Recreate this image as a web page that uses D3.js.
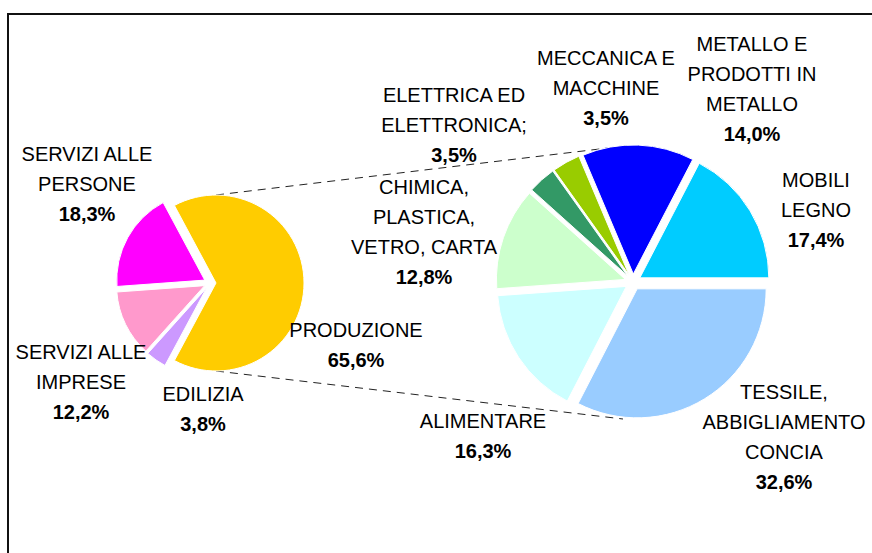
<!DOCTYPE html>
<html>
<head>
<meta charset="utf-8">
<script src="https://cdn.jsdelivr.net/npm/d3@7"></script>
<style>
  body { margin: 0; background: #fff; }
  text { font-family: "Liberation Sans", Arial, sans-serif; }
</style>
</head>
<body>
<div id="chart"></div>
<script>
(function () {

var width = 872;
var height = 553;

// first pie: all sectors (share of total)
var mainNames = ["PRODUZIONE", "EDILIZIA", "SERVIZI ALLE\nIMPRESE", "SERVIZI ALLE\nPERSONE"];
var mainValues = [65.6, 3.8, 12.2, 18.3];
var mainColors = ["#FFCC00", "#CC99FF", "#FF99CC", "#FF00FF"];

// second pie: breakdown of PRODUZIONE
var prodNames = ["TESSILE,\nABBIGLIAMENTO\nCONCIA", "ALIMENTARE", "CHIMICA,\nPLASTICA,\nVETRO, CARTA",
  "ELETTRICA ED\nELETTRONICA;", "MECCANICA E\nMACCHINE", "METALLO E\nPRODOTTI IN\nMETALLO", "MOBILI\nLEGNO"];
var prodValues = [32.6, 16.3, 12.8, 3.5, 3.5, 14.0, 17.4];
var prodColors = ["#99CCFF", "#CCFFFF", "#CCFFCC", "#339966", "#99CC00", "#0000FF", "#00CCFF"];

// label anchors (first line baseline) relative to each pie centre
var mainLabelPos = [[146, 54], [-7, 118], [-129, 76], [-123, -122]];
var prodLabelPos = [[151, 117], [-150, 146], [-209, -88], [-179, -180], [-27, -217], [119, -231], [183, -95]];

var left = { cx: 210, cy: 283, r: 88, explode: 6 };
var right = { cx: 633, cy: 282, r: 129, explode: 8 };
var lineH = 30;

var fmt = function (v) { return d3.format(".1f")(v).replace(".", ",") + "%"; };

var svg = d3.select("#chart").append("svg")
  .attr("width", width)
  .attr("height", height);

// chart frame, runs off the right and bottom edge like the original
svg.append("rect")
  .attr("x", 8)
  .attr("y", 14)
  .attr("width", 1000)
  .attr("height", 1000)
  .attr("fill", "none")
  .attr("stroke", "#111")
  .attr("stroke-width", 2);

// the "other" slice is centred on 3 o'clock
var otherAngle = 2 * Math.PI * mainValues[0] / d3.sum(mainValues);
var mainStart = Math.PI / 2 - otherAngle / 2;

var pieMain = d3.pie().sort(null).value(function (d) { return d; })
  .startAngle(mainStart).endAngle(mainStart + 2 * Math.PI);
var pieProd = d3.pie().sort(null).value(function (d) { return d; })
  .startAngle(Math.PI / 2).endAngle(Math.PI / 2 + 2 * Math.PI);

var mainArcs = pieMain(mainValues);
var prodArcs = pieProd(prodValues);

// connector lines from the exploded "other" slice to the second pie
var mid0 = (mainArcs[0].startAngle + mainArcs[0].endAngle) / 2;
var ox = left.cx + Math.sin(mid0) * left.explode;
var oy = left.cy - Math.cos(mid0) * left.explode;
var connectors = [
  [[ox, oy - left.r], [right.cx, right.cy - right.r - right.explode]],
  [[ox, oy + left.r], [right.cx - 10, right.cy + right.r + right.explode]]
];
svg.append("g").selectAll("line")
  .data(connectors)
  .join("line")
  .attr("x1", function (d) { return d[0][0]; })
  .attr("y1", function (d) { return d[0][1]; })
  .attr("x2", function (d) { return d[1][0]; })
  .attr("y2", function (d) { return d[1][1]; })
  .attr("stroke", "#222")
  .attr("stroke-width", 1)
  .attr("stroke-dasharray", "8,6");

function drawPie(pie, arcs, colors, names, values, labelPos) {
  var arc = d3.arc().innerRadius(0).outerRadius(pie.r);
  var g = svg.append("g")
    .attr("transform", "translate(" + pie.cx + "," + pie.cy + ")");

  g.selectAll("path")
    .data(arcs)
    .join("path")
    .attr("d", arc)
    .attr("fill", function (d, i) { return colors[i]; })
    .attr("stroke", "#fff")
    .attr("stroke-width", 1)
    .attr("transform", function (d) {
      var a = (d.startAngle + d.endAngle) / 2;
      return "translate(" + (Math.sin(a) * pie.explode) + "," + (-Math.cos(a) * pie.explode) + ")";
    });

  var labels = g.selectAll("text")
    .data(arcs)
    .join("text")
    .attr("text-anchor", "middle")
    .attr("font-size", "20px")
    .attr("fill", "#000")
    .attr("x", function (d, i) { return labelPos[i][0]; })
    .attr("y", function (d, i) { return labelPos[i][1]; });

  labels.each(function (d, i) {
    var t = d3.select(this);
    var lines = names[i].split("\n");
    lines.forEach(function (s, k) {
      t.append("tspan")
        .attr("x", labelPos[i][0])
        .attr("y", labelPos[i][1] + k * lineH)
        .text(s);
    });
    t.append("tspan")
      .attr("x", labelPos[i][0])
      .attr("y", labelPos[i][1] + lines.length * lineH)
      .attr("font-weight", "bold")
      .text(fmt(values[i]));
  });
}

drawPie(left, mainArcs, mainColors, mainNames, mainValues, mainLabelPos);
drawPie(right, prodArcs, prodColors, prodNames, prodValues, prodLabelPos);

})();
</script>
</body>
</html>
